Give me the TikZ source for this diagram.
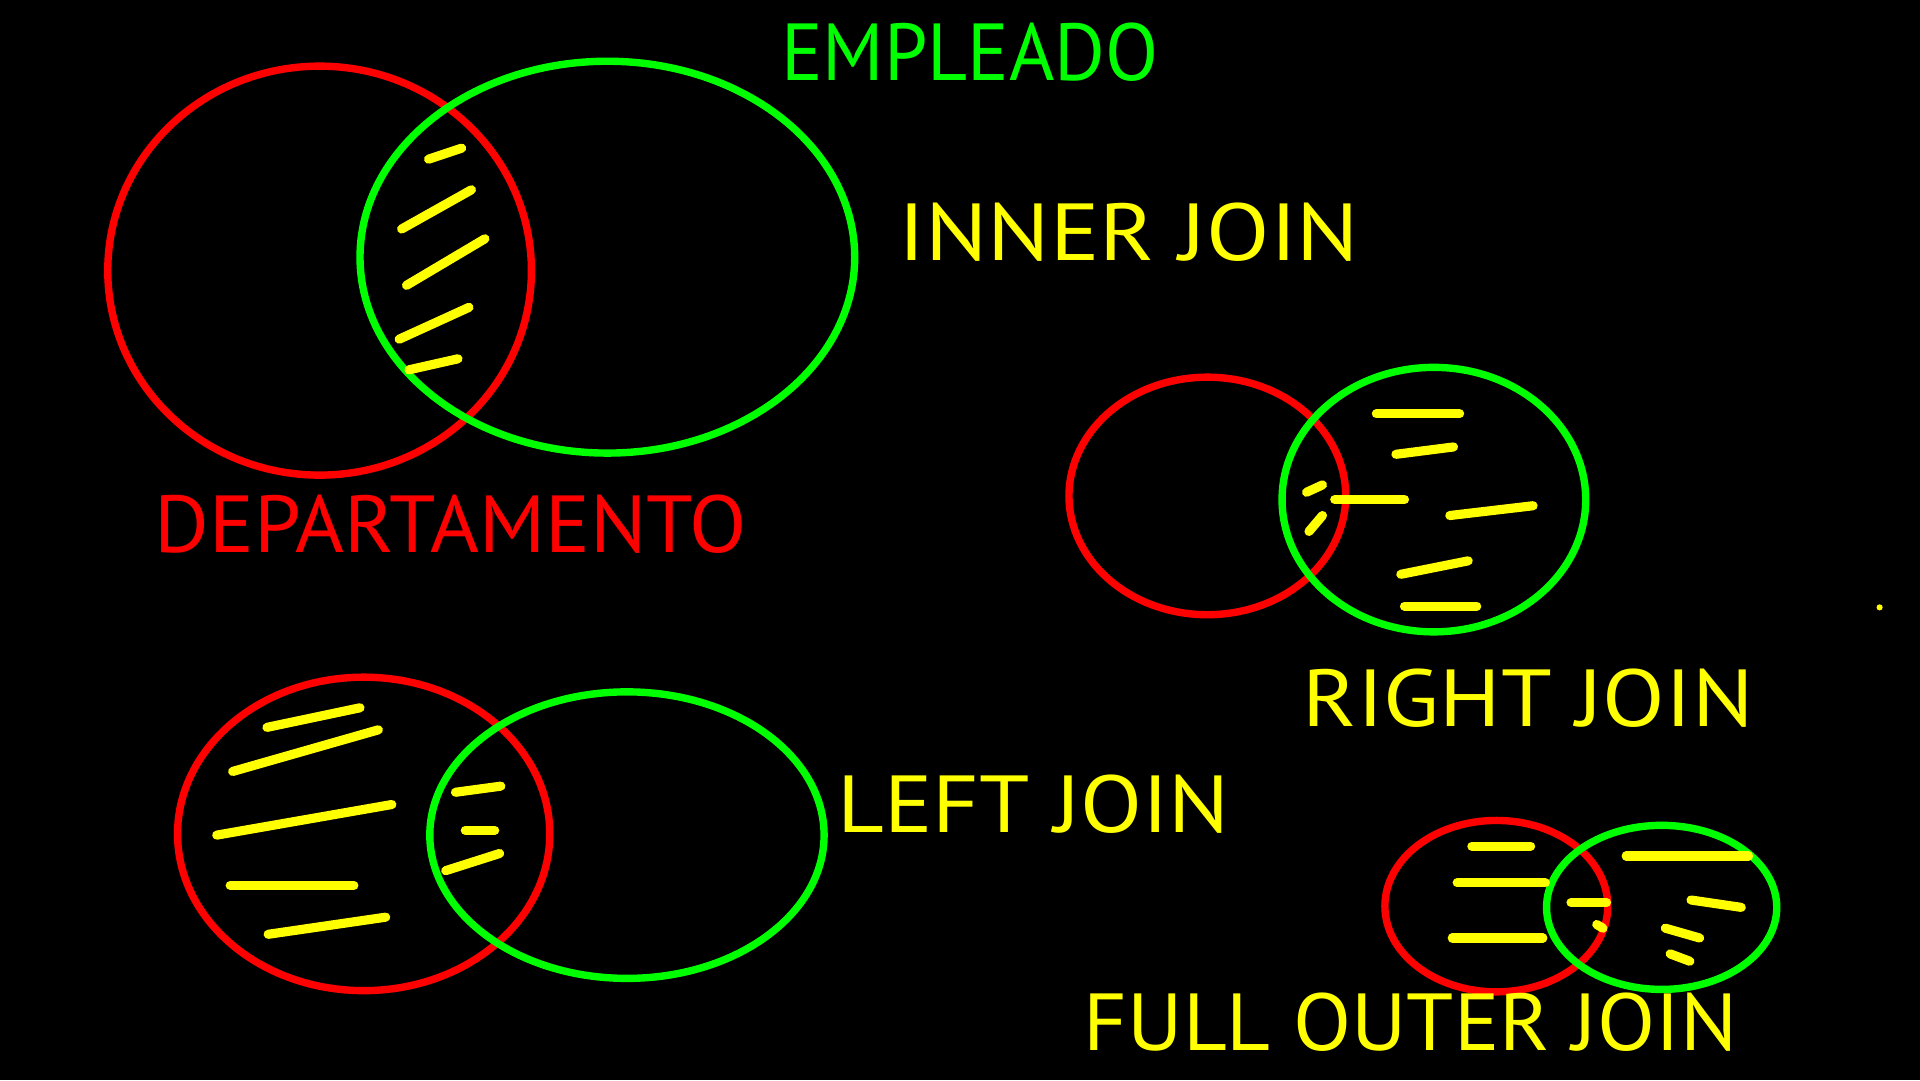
\documentclass[tikz,border=0pt]{standalone}
\usepackage{fontspec}
\setmainfont{PT Sans}

\definecolor{deptred}{HTML}{FF0000}
\definecolor{emplgreen}{HTML}{00FF00}
\definecolor{markyellow}{HTML}{FFFF00}

\newcommand{\stretchlbl}[2]{\scalebox{#1}[1]{#2}}

\begin{document}
\begin{tikzpicture}[
    x=0.012245cm, y=-0.012245cm,
    dept/.style={draw=deptred, line width=2.1pt},
    empl/.style={draw=emplgreen, line width=2.1pt},
    hatch/.style={draw=markyellow, line width=2.6pt, line cap=round},
    joinlbl/.style={font=\fontsize{23}{27}\selectfont, text=markyellow},
    setlbl/.style={font=\fontsize{23}{27}\selectfont},
]

% Background
\fill[black] (0,0) rectangle (1568,882);
\useasboundingbox (0,0) rectangle (1568,882);

% --- Inner join ---
\draw[dept] (261,221) ellipse [x radius=173, y radius=167];
\draw[empl] (496,210) ellipse [x radius=202, y radius=160];
\foreach \a/\b/\c/\d in {350/130/377/121, 328/187/385/155, 332/233/396/195,
                          326/277/383/251, 334/302/374/293}
    \draw[hatch] (\a,\b) -- (\c,\d);

\node[setlbl, text=emplgreen] (empleado) at (792,43) {\stretchlbl{0.96}{EMPLEADO}};
\node[setlbl, text=deptred] (departamento) at (368,428) {\stretchlbl{1.035}{DEPARTAMENTO}};
\node[joinlbl] (innerjoin) at (922,190) {\stretchlbl{1.145}{INNER JOIN}};

% --- Right join ---
\draw[dept] (986,405) ellipse [x radius=113, y radius=97];
\draw[empl] (1171,408) ellipse [x radius=124, y radius=108];
\foreach \a/\b/\c/\d in {1124/338/1192/338, 1140/371/1187/365, 1067/402/1080/396,
                          1090/408/1147/408, 1069/434/1080/421, 1184/421/1252/413,
                          1144/469/1199/458, 1147/495/1206/495}
    \draw[hatch] (\a,\b) -- (\c,\d);
\fill[markyellow] (1535,496) circle (2.5);

\node[joinlbl] (rightjoin) at (1248,570) {\stretchlbl{1.13}{RIGHT JOIN}};

% --- Left join ---
\draw[dept] (297,681) ellipse [x radius=152, y radius=128];
\draw[empl] (512,682) ellipse [x radius=161, y radius=117];
\foreach \a/\b/\c/\d in {218/594/294/578, 190/630/309/596, 177/682/320/657,
                          188/723/289/723, 219/763/315/749, 372/647/409/642,
                          380/678/404/678, 364/711/408/697}
    \draw[hatch] (\a,\b) -- (\c,\d);

\node[joinlbl] (leftjoin) at (844,657) {\stretchlbl{1.12}{LEFT JOIN}};

% --- Full outer join ---
\draw[dept] (1222,740) ellipse [x radius=91, y radius=70];
\draw[empl] (1357,741) ellipse [x radius=94, y radius=67];
\foreach \a/\b/\c/\d in {1202/691/1250/691, 1190/721/1262/721, 1186/766/1260/766,
                          1328/699/1428/699, 1283/737/1312/737, 1304/755/1309/758,
                          1381/735/1422/741, 1360/758/1388/766, 1364/779/1380/785}
    \draw[hatch] (\a,\b) -- (\c,\d);

\node[joinlbl] (fulljoin) at (1152,835) {\stretchlbl{1.05}{FULL OUTER JOIN}};

\end{tikzpicture}
\end{document}
